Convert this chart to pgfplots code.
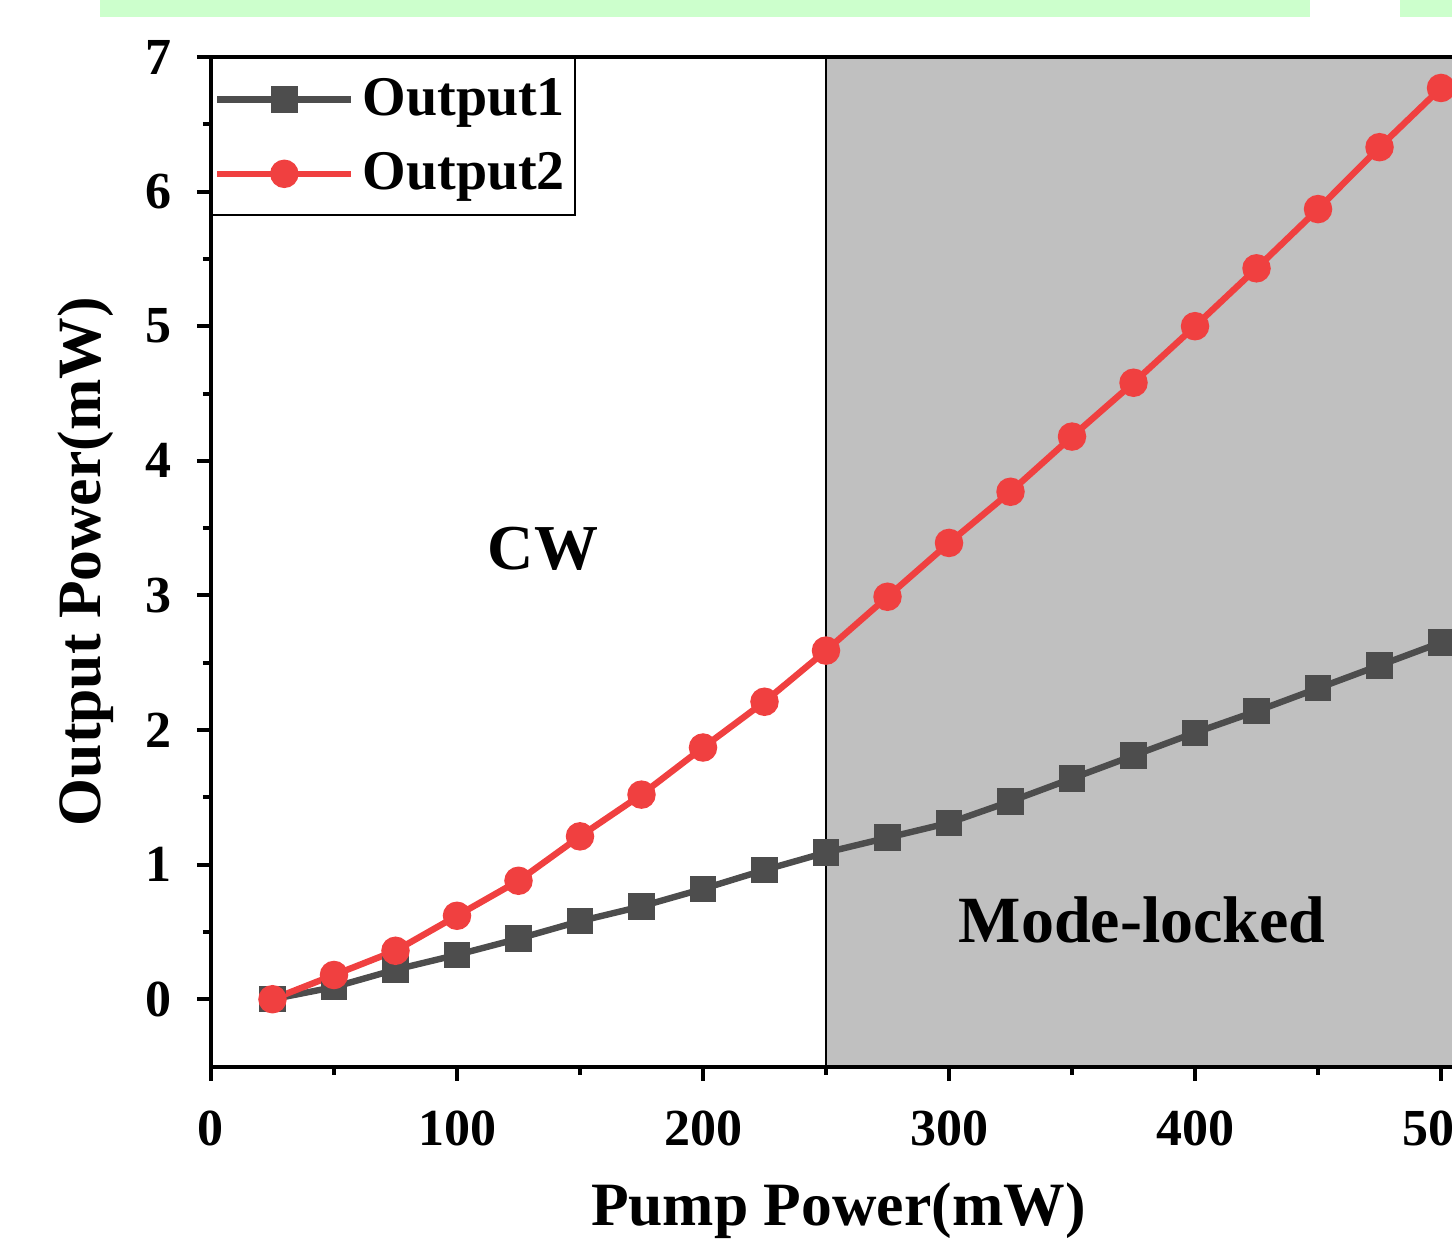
\documentclass[border=0pt]{standalone}
\usepackage{fontspec}
\setmainfont{Liberation Serif}
\usepackage{pgfplots}
\pgfplotsset{compat=1.18}

\definecolor{grayline}{HTML}{4D4D4D}
\definecolor{redline}{HTML}{F04040}
\definecolor{shade}{HTML}{C0C0C0}
\definecolor{band}{HTML}{CCFFCC}

\begin{document}
\begin{tikzpicture}
\begin{axis}[
  x=0.615pt, y=33.65pt,
  xmin=0, xmax=510, ymin=-0.5, ymax=7,
  clip=false, axis on top,
  axis line style={line width=1pt},
  tick align=outside, xtick pos=left, ytick pos=left,
  xtick={0,100,...,500}, ytick={0,...,7},
  minor x tick num=1, minor y tick num=1,
  major tick length=3.5pt, minor tick length=2pt,
  every tick/.style={black, line width=1pt},
  ticklabel style={font=\fontsize{13}{15}\selectfont\bfseries},
  xticklabel style={yshift=-4pt},
  yticklabel style={xshift=-2.75pt},
  /pgf/number format/assume math mode=true,
  xlabel={Pump Power(mW)}, ylabel={Output Power(mW)},
  label style={font=\fontsize{15.4}{17}\selectfont\bfseries},
  xlabel style={at={([yshift=-39.75pt]axis description cs:0.5,0)}, anchor=base},
  ylabel style={at={([xshift=-27.5pt]axis description cs:0,0.5)}, anchor=base},
  legend style={at={(axis description cs:0,1)}, anchor=north west,
    draw=black, line width=0.5pt, font=\fontsize{14}{16}\selectfont\bfseries,
    inner xsep=0.5pt, inner ysep=3pt, /tikz/row sep=3.8pt,
    legend cell align=left},
  legend image code/.code={\draw[mark repeat=2,mark phase=2]
    plot coordinates {(0cm,0cm) (0.59cm,0cm) (1.18cm,0cm)};},
]
% highlight bands cut off at the top
\fill[band] (axis cs:-45.1,7.297) rectangle (axis cs:446.7,7.43);
\fill[band] (axis cs:483.3,7.297) rectangle (axis cs:520,7.43);
% mode-locked region
\filldraw[fill=shade, draw=black, line width=0.5pt] (axis cs:250,-0.5) rectangle (axis cs:510,7);

\addplot[grayline, line width=1.6pt, mark=square*, mark size=2.5pt] coordinates {
(25,0.00) (50,0.09) (75,0.22) (100,0.33) (125,0.45) (150,0.58) (175,0.69)
(200,0.82) (225,0.96) (250,1.09) (275,1.20) (300,1.31) (325,1.47) (350,1.64)
(375,1.81) (400,1.98) (425,2.14) (450,2.31) (475,2.48) (500,2.65)};
\addlegendentry{Output1}
\addplot[redline, line width=1.6pt, mark=*, mark size=2.75pt] coordinates {
(25,0.00) (50,0.18) (75,0.36) (100,0.62) (125,0.88) (150,1.21) (175,1.52)
(200,1.87) (225,2.21) (250,2.59) (275,2.99) (300,3.39) (325,3.77) (350,4.18)
(375,4.58) (400,5.00) (425,5.43) (450,5.87) (475,6.33) (500,6.77)};
\addlegendentry{Output2}

\node[font=\fontsize{16}{18}\selectfont\bfseries, anchor=base] at (axis cs:135,3.19) {CW};
\node[font=\fontsize{16.5}{18}\selectfont\bfseries, anchor=base] at (axis cs:378.5,0.42) {Mode-locked};

\coordinate (BL) at (axis cs:-85.77,-1.7853);
\coordinate (TR) at (axis cs:504.47,7.4235);
\end{axis}
\pgfresetboundingbox
\useasboundingbox (BL) rectangle (TR);
\end{tikzpicture}
\end{document}
